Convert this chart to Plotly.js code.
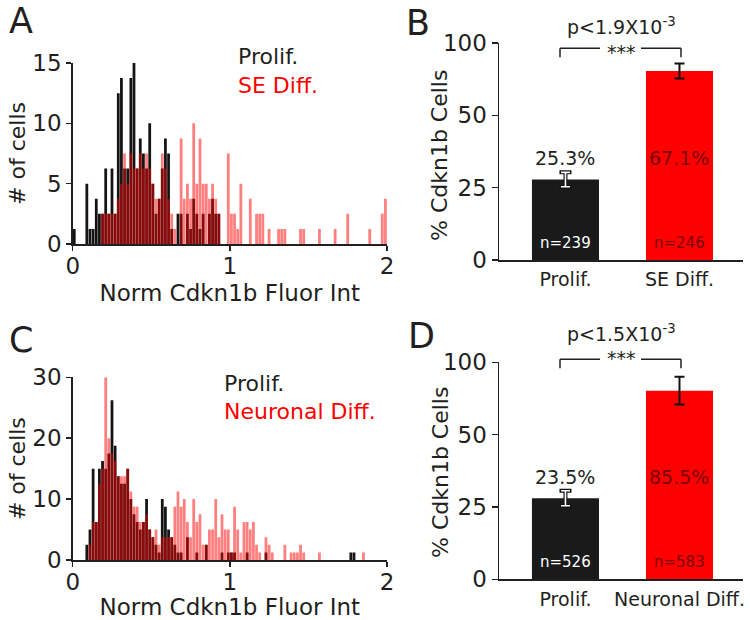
<!DOCTYPE html>
<html><head><meta charset="utf-8">
<script src="https://cdn.plot.ly/plotly-3.0.1.min.js"></script>
<style>html,body{margin:0;padding:0;background:#fff}#chart{width:750px;height:620px}</style>
</head><body><div id="chart"></div>
<script>
// ---------- data ----------
const binWidth = 0.02;   // histogram bin width (Norm Cdkn1b Fluor Int)
// Panel A histogram counts, bins 0..2 step 0.02
const aProlif = [1.25,0,0,0,5,1.25,1.25,3.75,2.5,2.5,
  6.25,2.5,6.25,2.5,12.5,13.75,6.25,6.25,13.75,15,
  6.25,8.75,7.5,6.25,10,5,2.5,3.75,6.25,8.75,
  7.5,1.25,0,2.5,2.5,0,2.5,1.25,3.75,2.5,
  1.25,2.5,0,2.5,3.75,2.5,2.5,0,0,0,
  0,0,0,0,0,0,0,0,0,0, 0,0,0,0,0,0,0,0,0,0,
  0,0,0,0,0,0,0,0,0,0, 0,0,0,0,0,0,0,0,0,0,
  0,0,0,0,0,0,0,0,0,0];
const aSEDiff = [0,0,0,0,0,0,0,0,0,2.5,
  2.5,2.5,2.5,2.5,3.75,5,7.5,5,7.5,6.25,
  6.25,7.5,6.25,7.5,6.25,5,3.75,3.75,7.5,6.25,
  3.75,2.5,1.25,0,8.75,3.75,5,3.75,10,5,
  8.75,5,5,3.75,5,3.75,2.5,0,0,7.5,
  2.5,2.5,1.25,5,0,0,3.75,0,2.5,2.5,
  2.5,0,1.25,0,0,1.25,1.25,1.25,0,0,
  0,0,1.25,1.25,0,0,0,0,1.25,0,
  0,0,0,1.25,0,0,0,2.5,0,0,
  0,0,0,0,1.25,0,0,0,2.5,3.75];
// Panel C histogram counts
const cProlif = [0,0,0,0,2.5,5,15,6.25,15,16.25,
  15,17.5,26.25,18.75,13.75,12.5,12.5,15,10,7.5,
  6.25,5,6.25,10,5,3.75,2.5,1.25,10,8.75,
  5,3.75,2.5,1.25,1.25,0,3.75,0,0,1.25,
  0,0,2.5,0,0,0,0,1.25,0,1.25,
  1.25,1.25,0,0,0,1.25,0,0,0,0,
  0,1.25,0,0,0,0,0,0,0,0,
  0,0,0,0,0,0,0,0,0,0,
  0,0,0,0,0,0,0,0,1.25,1.25,
  0,0,0,0,0,0,0,0,0,0];
const cNeuronal = [0,0,0,0,0,2.5,6.25,6.25,12.5,15,
  30,20,17.5,16.25,13.75,13.75,13.75,15,11.25,8.75,
  8.75,6.25,6.25,7.5,5,3.75,5,2.5,3.75,3.75,
  3.75,3.75,8.75,11.25,8.75,10,6.25,3.75,10,6.25,
  7.5,2.5,2.5,5,5,10,3.75,7.5,5,5,
  1.25,8.75,5,1.25,6.25,6.25,5,6.25,2.5,1.25,
  0,3.75,2.5,1.25,0,0,0,2.5,0,1.25,
  1.25,1.25,2.5,1.25,0,0,0,0,1.25,0,
  0,0,0,0,0,0,0,0,0,0,
  0,0,1.25,0,0,0,0,0,0,0];
const aMeanMarker = 0.56;
const cMeanMarker = 0.56;
const histXTicks = [0, 1, 2];
const aYTicks = [0, 5, 10, 15];
const cYTicks = [0, 10, 20, 30];

// Panels B and D (bar heights read in the drawn axis units)
const bCategories = ['Prolif.', 'SE Diff.'];
const bValues = [27.8, 65.3];
const bErrors = [2.5, 2.6];
const bPctLabels = ['25.3%', '67.1%'];
const bNLabels = ['n=239', 'n=246'];
const bPText = 'p&lt;1.9X10<sup>-3</sup>';
const dCategories = ['Prolif.', 'Neuronal Diff.'];
const dValues = [28.0, 65.2];
const dErrors = [2.6, 4.8];
const dPctLabels = ['23.5%', '85.5%'];
const dNLabels = ['n=526', 'n=583'];
const dPText = 'p&lt;1.5X10<sup>-3</sup>';
const pctTickVals = [0, 25, 50, 75];
const pctTickText = ['0', '25', '50', '100'];

// ---------- drawing ----------
const FONT = 'DejaVu Sans, Liberation Sans, Arial, sans-serif';
const TXT = '#231f20';
const W = 750, H = 620;
const px = v => v / W;
const py = v => 1 - v / H;
const centers = arr => arr.map((_, i) => binWidth * i + binWidth / 2);
const BLACK = '#141414';
const PINK = 'rgba(255,0,0,0.5)';
const DARKRED = '#7a0000';

function histTraces(prolif, diff, mean, meanY, xa, ya) {
  return [
    {type:'bar', x:centers(prolif), y:prolif, width:binWidth*0.88, marker:{color:BLACK},
     xaxis:xa, yaxis:ya, hoverinfo:'skip'},
    {type:'bar', x:centers(diff), y:diff, width:binWidth*0.88, marker:{color:PINK},
     xaxis:xa, yaxis:ya, hoverinfo:'skip'},
    {type:'scatter', mode:'markers', x:[mean], y:[meanY], cliponaxis:false,
     marker:{symbol:'triangle-up', size:12, color:'#000'}, xaxis:xa, yaxis:ya, hoverinfo:'skip'}
  ];
}
function barTraces(cats, vals, errs, xa, ya) {
  return [
    {type:'bar', x:cats, y:vals, width:0.588, marker:{color:['#1a1a1a','#ff0000']},
     xaxis:xa, yaxis:ya, hoverinfo:'skip'},
    // outlined (white) error bar on the black bar
    {type:'scatter', mode:'markers', x:[cats[0]], y:[vals[0]], marker:{opacity:0},
     error_y:{type:'data', array:[errs[0]], color:'#111', thickness:4, width:6}, xaxis:xa, yaxis:ya, hoverinfo:'skip'},
    {type:'scatter', mode:'markers', x:[cats[0]], y:[vals[0]], marker:{opacity:0},
     error_y:{type:'data', array:[errs[0]], color:'#fff', thickness:1.6, width:4.5}, xaxis:xa, yaxis:ya, hoverinfo:'skip'},
    {type:'scatter', mode:'markers', x:[cats[1]], y:[vals[1]], marker:{opacity:0},
     error_y:{type:'data', array:[errs[1]], color:'#111', thickness:2, width:5}, xaxis:xa, yaxis:ya, hoverinfo:'skip'}
  ];
}

const data = [].concat(
  histTraces(aProlif, aSEDiff, aMeanMarker, -1.08, 'x', 'y'),
  barTraces(bCategories, bValues, bErrors, 'x2', 'y2'),
  histTraces(cProlif, cNeuronal, cMeanMarker, -2.2, 'x3', 'y3'),
  barTraces(dCategories, dValues, dErrors, 'x4', 'y4')
);

const lineCommon = {showline:true, linewidth:1.5, linecolor:TXT, showgrid:false, zeroline:false,
  ticks:'outside', tickwidth:1.5, tickcolor:TXT, fixedrange:true};
function histX(anchor) {
  return Object.assign({}, lineCommon, {domain:[px(72.7), px(387)], range:[0,2], tickvals:histXTicks,
    ticklen:5, tickfont:{size:23, color:TXT}, ticklabelstandoff:-4, anchor,
    title:{text:'Norm Cdkn1b Fluor Int', font:{size:23, color:TXT}, standoff:7}});
}
function histY(anchor, top, bottom, max, ticks) {
  return Object.assign({}, lineCommon, {domain:[py(bottom), py(top)], range:[0,max], tickvals:ticks,
    ticklen:5, tickfont:{size:23, color:TXT}, anchor,
    title:{text:'# of cells', font:{size:22, color:TXT}, standoff:0}});
}
function barX(anchor, cats) {
  return Object.assign({}, lineCommon, {domain:[px(499), px(743)], type:'category', categoryarray:cats,
    range:[-0.583, 1.557], ticks:'', tickfont:{size:19, color:TXT}, ticklabelstandoff:2, anchor});
}
function barY(anchor, top, bottom) {
  return Object.assign({}, lineCommon, {domain:[py(bottom), py(top)], range:[0,75], tickvals:pctTickVals,
    ticktext:pctTickText, ticklen:6, tickfont:{size:23, color:TXT}, anchor});
}

function ann(text, x, y, size, color, extra) {
  return Object.assign({text, x:px(x), y:py(y), xref:'paper', yref:'paper', showarrow:false,
    font:{family:FONT, size, color}, xanchor:'center', yanchor:'middle'}, extra || {});
}
function dataAnn(text, x, y, xa, ya, size, color) {
  return {text, x, y, xref:xa, yref:ya, showarrow:false, font:{family:FONT, size, color},
    xanchor:'center', yanchor:'middle'};
}
const PCT_Y = 35.3, N_Y = 6;

const annotations = [
  ann('A', 7, 21, 35, TXT, {xanchor:'left'}),
  ann('B', 404, 23, 35, TXT, {xanchor:'left'}),
  ann('C', 7, 340, 35, TXT, {xanchor:'left'}),
  ann('D', 406, 336, 35, TXT, {xanchor:'left'}),
  ann('Prolif.', 236, 57, 22, TXT, {xanchor:'left'}),
  ann('SE Diff.', 236, 85, 22, '#ff0000', {xanchor:'left'}),
  ann('Prolif.', 222, 383, 22, TXT, {xanchor:'left'}),
  ann('Neuronal Diff.', 222, 411, 22, '#ff0000', {xanchor:'left'}),
  ann('% Cdkn1b Cells', 440, 156, 22, TXT, {textangle:-90}),
  ann('% Cdkn1b Cells', 440, 473, 22, TXT, {textangle:-90}),
  ann(bPText, 621, 26, 19, TXT),
  ann(dPText, 621, 333, 19, TXT),
  ann('***', 621, 52, 19, TXT),
  ann('***', 621, 358, 19, TXT),
  dataAnn(bPctLabels[0], bCategories[0], PCT_Y, 'x2', 'y2', 19, TXT),
  dataAnn(bPctLabels[1], bCategories[1], PCT_Y, 'x2', 'y2', 19, DARKRED),
  dataAnn(bNLabels[0], bCategories[0], N_Y, 'x2', 'y2', 15, '#ffffff'),
  dataAnn(bNLabels[1], bCategories[1], N_Y, 'x2', 'y2', 15, DARKRED),
  dataAnn(dPctLabels[0], dCategories[0], PCT_Y, 'x4', 'y4', 19, TXT),
  dataAnn(dPctLabels[1], dCategories[1], PCT_Y, 'x4', 'y4', 19, DARKRED),
  dataAnn(dNLabels[0], dCategories[0], N_Y, 'x4', 'y4', 15, '#ffffff'),
  dataAnn(dNLabels[1], dCategories[1], N_Y, 'x4', 'y4', 15, DARKRED)
];

function seg(x0, y0, x1, y1) {
  return {type:'line', xref:'paper', yref:'paper', x0:px(x0), y0:py(y0), x1:px(x1), y1:py(y1),
    line:{color:TXT, width:1.5}};
}
function bracket(y, drop) {
  return [seg(560, y, 600, y), seg(641, y, 681, y), seg(560, y, 560, y + drop), seg(681, y, 681, y + drop)];
}
const shapes = [].concat(bracket(48.3, 9), bracket(359.3, 9));

const layout = {
  width:W, height:H, margin:{l:0, r:0, t:0, b:0}, paper_bgcolor:'#fff', plot_bgcolor:'rgba(0,0,0,0)',
  showlegend:false, barmode:'overlay', font:{family:FONT, color:TXT},
  xaxis:histX('y'), yaxis:histY('x', 63, 244, 15, aYTicks),
  xaxis2:barX('y2', bCategories), yaxis2:barY('x2', 43, 260),
  xaxis3:histX('y3'), yaxis3:histY('x3', 377.3, 560, 30, cYTicks),
  xaxis4:barX('y4', dCategories), yaxis4:barY('x4', 362.3, 579.3),
  annotations, shapes
};
Plotly.newPlot('chart', data, layout, {staticPlot:true, displayModeBar:false});
</script></body></html>
